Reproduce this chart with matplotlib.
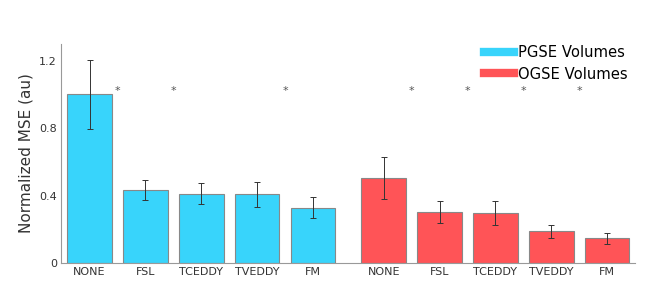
import numpy as np
import matplotlib
matplotlib.use('Agg')
import matplotlib.pyplot as plt
from matplotlib.lines import Line2D

methods = ['NONE', 'FSL', 'TCEDDY', 'TVEDDY', 'FM']
pgse_mean = [1.00, 0.434, 0.41, 0.408, 0.329]
pgse_err = [0.203, 0.058, 0.062, 0.074, 0.06]
ogse_mean = [0.504, 0.302, 0.296, 0.187, 0.146]
ogse_err = [0.124, 0.065, 0.069, 0.041, 0.031]
# asterisks between neighbouring bars (index of left bar in each group)
pgse_star = [0, 1, 3]
ogse_star = [0, 1, 2, 3]

C_P = '#38D4FB'
C_O = '#FF5457'
GREY = '#555555'

x_p = np.arange(len(methods))
x_o = x_p + 5.27

fig = plt.figure(figsize=(6.5, 2.83), dpi=100)
ax = fig.add_axes([0.094, 0.0707, 0.883, 0.774])

kw = dict(width=0.8, edgecolor='#888888', linewidth=0.8,
          error_kw=dict(ecolor='#333333', elinewidth=0.7, capsize=2, capthick=0.7))
ax.bar(x_p, pgse_mean, yerr=pgse_err, color=C_P, **kw)
ax.bar(x_o, ogse_mean, yerr=ogse_err, color=C_O, **kw)

for i in pgse_star:
    ax.text(x_p[i] + 0.5, 1.02, '*', ha='center', va='center', fontsize=8, color=GREY)
for i in ogse_star:
    ax.text(x_o[i] + 0.5, 1.02, '*', ha='center', va='center', fontsize=8, color=GREY)

ax.set_xlim(-0.51, 9.77)
ax.set_ylim(0, 1.3)
ax.set_xticks(np.concatenate([x_p, x_o]))
ax.set_xticklabels(methods + methods, fontsize=8, color='#333333')
ax.set_yticks([0, 0.4, 0.8, 1.2])
ax.set_yticklabels(['0', '0.4', '0.8', '1.2'], fontsize=8, color='#333333')
ax.tick_params(length=0, pad=3)
ax.set_ylabel('Normalized MSE (au)', fontsize=11, color='#333333')
for s in ['top', 'right']:
    ax.spines[s].set_visible(False)
for s in ['left', 'bottom']:
    ax.spines[s].set_color('#999999')
    ax.spines[s].set_linewidth(0.8)

handles = [Line2D([], [], color=C_P, lw=6), Line2D([], [], color=C_O, lw=6)]
fig.legend(handles, ['PGSE Volumes', 'OGSE Volumes'], loc='upper right',
           bbox_to_anchor=(0.975, 0.862), frameon=False, fontsize=10.6,
           handlelength=2.0, handletextpad=0.3, labelspacing=0.45, borderaxespad=0)

fig.savefig('out.png', dpi=100)
